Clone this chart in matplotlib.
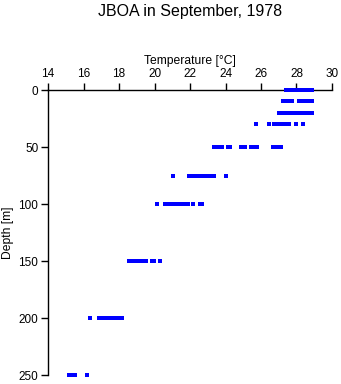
import numpy as np
import matplotlib
matplotlib.use('Agg')
import matplotlib.pyplot as plt

plt.rcParams['font.family'] = ['Liberation Sans', 'DejaVu Sans']

# temperature readings [degC] per sampling depth [m]
depths = [0, 10, 20, 30, 50, 75, 100, 150, 200, 250]
temps = [
    [27.4, 27.5, 27.6, 27.8, 27.9, 28.15, 28.25, 28.35, 28.5, 28.6, 28.7, 28.85],
    [27.25, 27.35, 27.5, 27.75, 28.15, 28.25, 28.35, 28.55, 28.65, 28.75, 28.85],
    [27.0, 27.1, 27.2, 27.3, 27.4, 27.5, 27.65, 27.85, 28.0, 28.15, 28.3, 28.45,
     28.55, 28.7, 28.85],
    [25.7, 26.45, 26.75, 26.9, 27.05, 27.15, 27.25, 27.4, 27.55, 27.95, 28.35],
    [23.35, 23.5, 23.65, 23.8, 24.15, 24.25, 24.85, 25.0, 25.1, 25.45, 25.6,
     25.75, 26.65, 26.8, 26.9, 27.15],
    [21.05, 21.95, 22.1, 22.2, 22.35, 22.45, 22.55, 22.7, 22.8, 22.9, 23.0,
     23.1, 23.2, 23.35, 24.05],
    [20.15, 20.6, 20.75, 20.9, 21.0, 21.1, 21.25, 21.35, 21.45, 21.55, 21.7,
     21.9, 22.15, 22.55, 22.65],
    [18.55, 18.7, 18.85, 19.0, 19.1, 19.2, 19.35, 19.5, 19.85, 19.95, 20.3],
    [16.35, 16.9, 17.05, 17.2, 17.3, 17.4, 17.5, 17.6, 17.7, 17.85, 18.0, 18.15],
    [15.2, 15.3, 15.4, 15.5, 16.2],
]
xticks = [14, 16, 18, 20, 22, 24, 26, 28, 30]
yticks = [0, 50, 100, 150, 200, 250]

fig = plt.figure(figsize=(3.41, 3.84), dpi=100)
ax = fig.add_axes([0.1408, 0.0234, 0.8328, 0.7422])

for d, t in zip(depths, temps):
    ax.plot(t, [d] * len(t), linestyle='none', marker='s', markersize=2.2,
            color='#0000ff', markeredgewidth=0, zorder=3, clip_on=False,
            antialiased=False)

ax.set_xlim(14, 30)
ax.set_ylim(250, 0)
ax.set_xticks(xticks)
ax.set_yticks(yticks)
ax.xaxis.set_ticks_position('top')
ax.xaxis.set_label_position('top')
ax.spines['right'].set_visible(False)
ax.spines['bottom'].set_visible(False)
for s in ('left', 'top'):
    ax.spines[s].set_linewidth(1.0)
ax.tick_params(axis='both', length=5, width=1.0, labelsize=8.5, pad=2)
ax.set_xlabel('Temperature [°C]', fontsize=8.7, labelpad=3)
ax.set_ylabel('Depth [m]', fontsize=8.7, labelpad=3)
fig.suptitle('JBOA in September, 1978', fontsize=11.5, x=0.557, y=0.99)

fig.savefig('out.png', dpi=100)
